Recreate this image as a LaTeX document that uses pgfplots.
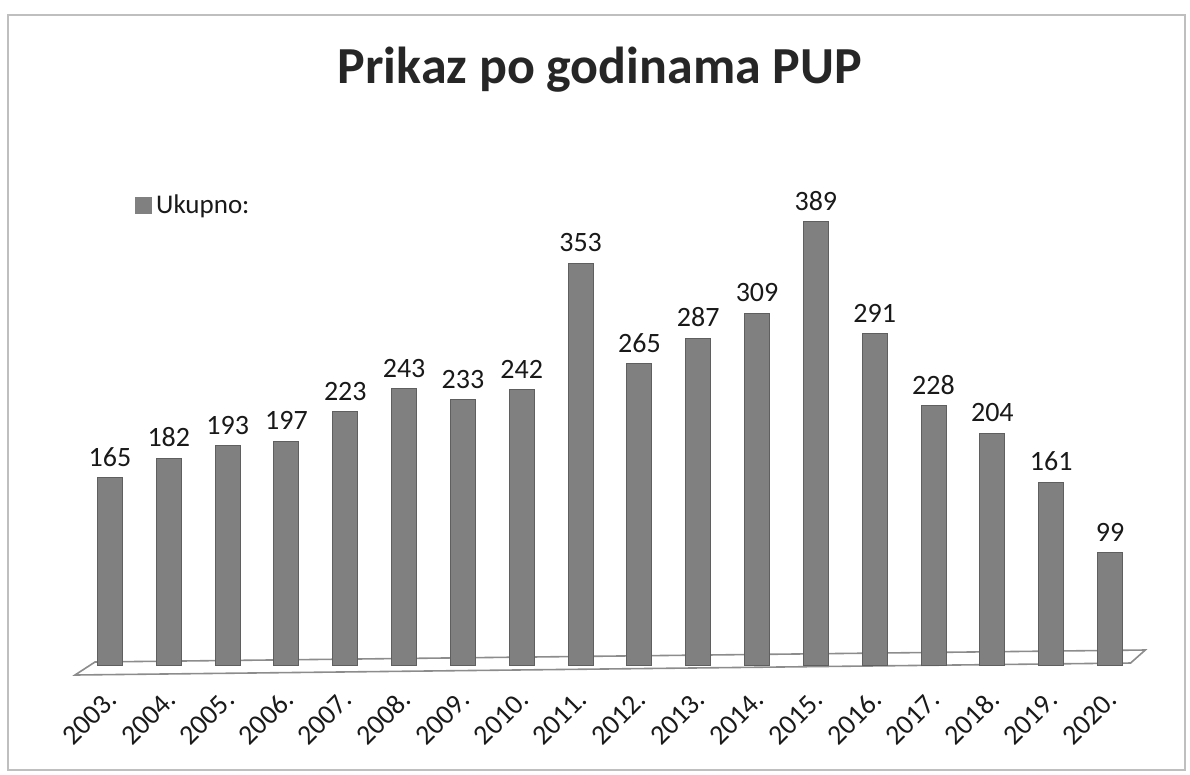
\documentclass[border=0pt]{standalone}
\usepackage{pgfplots}
\pgfplotsset{compat=1.18}
\usepackage{fontspec}
\setmainfont{Carlito}
\definecolor{barc}{RGB}{128,128,128}
\definecolor{bard}{RGB}{95,95,95}
\begin{document}
\begin{tikzpicture}[x=0.5pt,y=0.5pt]
\useasboundingbox (0,0) rectangle (1190,775);
\draw[black!25, line width=1pt] (8,5) rectangle (1185,760);
\node[font=\bfseries\fontsize{26}{30}\selectfont, text=black!85] at (600,705) {Prikaz po godinama PUP};
\begin{axis}[
  at={(35pt,54.5pt)}, anchor=south west,
  scale only axis,
  width=540pt, height=258pt,
  xmin=-0.68, xmax=17.68, ymin=0, ymax=452,
  ybar, bar width=12.5pt,
  axis line style={draw=none},
  major tick length=0pt,
  ymajorticks=false,
  xtick=data,
  xticklabels={2003.,2004.,2005.,2006.,2007.,2008.,2009.,2010.,2011.,2012.,2013.,2014.,2015.,2016.,2017.,2018.,2019.,2020.},
  xticklabel style={xshift=3.5pt, yshift=-12pt, rotate=45, anchor=east, font=\fontsize{14}{16}\selectfont, text=black!90},
  /pgf/number format/assume math mode=true,
  nodes near coords,
  every node near coord/.append style={font=\fontsize{14}{16}\selectfont, text=black!90, yshift=2pt},
  legend style={draw=none, fill=none, at={(0.06,0.893)}, anchor=west, font=\fontsize{13.5}{15}\selectfont, text=black!90, inner sep=0pt},
  legend image code/.code={\fill[barc] (0pt,-4pt) rectangle (8pt,4pt);},
  clip=false,
]
\draw[black!45, line width=0.8pt, fill=white] (axis cs:-0.595,-7.9) -- (axis cs:-0.255,3.5) -- (axis cs:17.6,14) -- (axis cs:17.35,2.6) -- cycle;
\addplot[fill=barc, draw=bard, line width=0.5pt] coordinates {
(0,165) (1,182) (2,193) (3,197) (4,223) (5,243) (6,233) (7,242) (8,353)
(9,265) (10,287) (11,309) (12,389) (13,291) (14,228) (15,204) (16,161) (17,99)
};
\addlegendentry{Ukupno:}
\end{axis}
\end{tikzpicture}
\end{document}
